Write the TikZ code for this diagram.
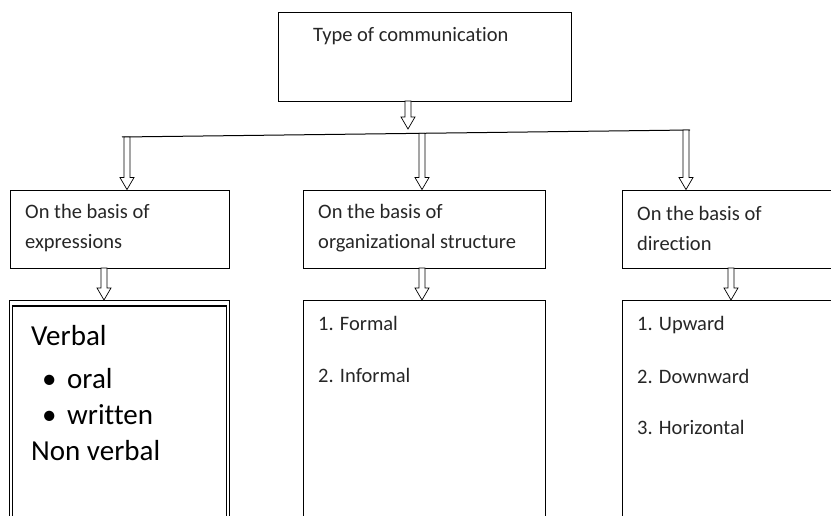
\documentclass[tikz,border=0pt]{standalone}
\usepackage{fontspec}
\setmainfont{Carlito}[Ligatures={NoCommon}]
\usetikzlibrary{calc}
\tikzset{
  box/.style={draw, line width=0.9pt, rectangle, inner sep=0pt},
  lbl/.style={inner sep=0pt, font=\fontsize{20.5}{30}\selectfont, align=left, text=black!85},
  big/.style={inner sep=0pt, font=\fontsize{29}{30}\selectfont, anchor=base west},
  hollow/.style={draw, line width=0.7pt, fill=white, line join=miter},
  bus/.style={line width=1pt}
}
\newcommand\hollowarrow[2]{%
  \draw[hollow] let \p1=#1, \p2=#2 in
    (\x1-3pt,\y1) -- (\x1-3pt,\y2+12pt) -- (\x1-7pt,\y2+12pt) -- (\x1,\y2)
    -- (\x1+7pt,\y2+12pt) -- (\x1+3pt,\y2+12pt) -- (\x1+3pt,\y1) -- cycle;}
\begin{document}
\begin{tikzpicture}[x=1pt,y=-1pt]
\useasboundingbox (0,0) rectangle (831,516);
\clip (0,0) rectangle (831,516);
% top box
\node[box, minimum width=293pt, minimum height=89pt] (top) at (424.5,56.5) {};
\node[lbl, anchor=west] (toptxt) at (313,36) {Type of communication};
% bus
\coordinate (busL) at (122,137);
\coordinate (busR) at (690,130);
\draw[bus] (busL) -- (busR);
\coordinate (a1) at ($(busL)!{(127-122)/(690-122)}!(busR)$);
\coordinate (a2) at ($(busL)!{(422-122)/(690-122)}!(busR)$);
\coordinate (a3) at (686,130);
\coordinate (topfoot) at (408,101);
\coordinate (topend) at (408,129);
\hollowarrow{(topfoot)}{(topend)}
% middle boxes
\node[box, minimum width=219pt, minimum height=78pt] (b1) at (119.5,229) {};
\node[box, minimum width=242pt, minimum height=78pt] (b2) at (424,229) {};
\node[box, minimum width=211pt, minimum height=78pt] (b3) at (727.5,229) {};
\node[lbl, anchor=west] (b1t) at (25,228) {On the basis of\\expressions};
\node[lbl, anchor=west] (b2t) at (318,228) {On the basis of\\organizational structure};
\node[lbl, anchor=west] (b3t) at (637,228) {On the basis of\\direction};
\hollowarrow{(a1)}{(a1 |- b1.north)}
\hollowarrow{(a2)}{(a2 |- b2.north)}
\hollowarrow{(a3)}{(a3 |- b3.north)}
% bottom boxes
\node[box, line width=0.7pt, minimum width=220pt, minimum height=230pt, anchor=north west] (c1) at (9,300) {};
\node[box, line width=1.6pt, minimum width=214pt, minimum height=230pt, anchor=north west] (c1in) at (11.5,305) {};
\node[box, minimum width=242pt, minimum height=230pt, anchor=north west] (c2) at (303,300) {};
\node[box, minimum width=211pt, minimum height=230pt, anchor=north west] (c3) at (622,300) {};
\coordinate (d1) at (104,268);
\coordinate (d2) at (422,268);
\coordinate (d3) at (731,268);
\hollowarrow{(d1)}{(d1 |- c1.north)}
\hollowarrow{(d2)}{(d2 |- c2.north)}
\hollowarrow{(d3)}{(d3 |- c3.north)}
% texts of bottom boxes
\node[big] (v1) at (31,345) {Verbal};
\node[big] (v2) at (42,388) {\makebox[25pt][l]{\textbullet}oral};
\node[big] (v3) at (42,424) {\makebox[25pt][l]{\textbullet}written};
\node[big] (v4) at (31,460) {Non verbal};
\node[lbl, anchor=base west] (f1) at (318,330) {1. Formal};
\node[lbl, anchor=base west] (f2) at (318,382) {2. Informal};
\node[lbl, anchor=base west] (g1) at (637,330) {1. Upward};
\node[lbl, anchor=base west] (g2) at (637,383) {2. Downward};
\node[lbl, anchor=base west] (g3) at (637,434) {3. Horizontal};
\end{tikzpicture}
\end{document}
